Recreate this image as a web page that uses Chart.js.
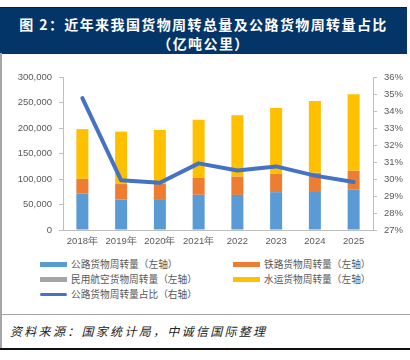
<!DOCTYPE html>
<html><head><meta charset="utf-8">
<script src="https://cdn.jsdelivr.net/npm/chart.js@4/dist/chart.umd.min.js"></script>
<style>
html,body{margin:0;padding:0;background:#fff;}
body{width:410px;height:360px;position:relative;overflow:hidden;font-family:"Noto Sans CJK SC","Noto Sans",sans-serif;}
#banner{position:absolute;left:0;top:7px;width:407px;height:46px;background:#033568;border-top:1px solid #1b1b1b;color:#fff;text-align:center;font-weight:bold;font-size:14px;letter-spacing:1.4px;}
#banner .l1{position:absolute;left:0;width:100%;top:7px;line-height:18px;}
#banner .l2{position:absolute;left:0;width:100%;top:26px;line-height:18px;}
#lborder{position:absolute;left:0;top:53px;width:2px;height:296px;background:#a6a6a6;}
#hline{position:absolute;left:0;top:314px;width:410px;height:1px;background:#a6a6a6;}
#bline{position:absolute;left:0;top:348px;width:410px;height:2px;background:#111;}
#foot{position:absolute;left:10px;top:322px;font-size:12px;font-style:italic;color:#222;letter-spacing:2.3px;line-height:18px;}
#wrap{position:absolute;left:0;top:55px;width:410px;height:195px;}
.lg{position:absolute;height:14px;font-size:9.7px;color:#595959;line-height:14px;white-space:nowrap;}
.lg .sw{position:absolute;left:0;top:5px;width:27px;height:5px;}
.lg .ln{position:absolute;left:0;top:6px;width:27px;height:3px;border-radius:2px;}
.lg span.t{position:absolute;left:31px;top:0;}
</style></head>
<body>
<div id="banner"><div class="l1">图 2：近年来我国货物周转总量及公路货物周转量占比</div><div class="l2">（亿吨公里）</div></div>
<div id="lborder"></div>
<div id="wrap"><canvas id="c"></canvas></div>
<div id="legend"></div>
<div id="hline"></div>
<div id="foot">资料来源：国家统计局，中诚信国际整理</div>
<div id="bline"></div>
<script>
const categories = ['2018年','2019年','2020年','2021年','2022','2023','2024','2025'];
const road  = [71200, 59600, 60500, 69000, 68800, 74200, 76300, 79600];
const rail  = [28800, 30500, 30300, 33400, 35700, 36200, 35500, 36100];
const air   = [262, 263, 240, 278, 254, 283, 330, 360];
const water = [97500, 102600, 105200, 113600, 120300, 128700, 141000, 150300];
const roadShare = [34.76, 29.92, 29.78, 30.92, 30.50, 30.74, 30.20, 29.82];
const leftTicks = {min:0, max:300000, step:50000};
const rightTicks = {min:27, max:36, step:1};

const names = ['公路货物周转量（左轴）','铁路货物周转量（左轴）','民用航空货物周转量（左轴）','水运货物周转量（左轴）','公路货物周转量占比（右轴）'];
const colors = ['#5B9BD5','#ED7D31','#A5A5A5','#FFC000','#4472C4'];

const barCommon = {type:'bar', yAxisID:'y', stack:'s', order:1, barPercentage:0.62, categoryPercentage:0.5, borderWidth:0};
const tickFont = {family:'"Liberation Sans","DejaVu Sans",sans-serif', size:9.5};

new Chart(document.getElementById('c'), {
  data:{
    labels:categories,
    datasets:[
      Object.assign({label:names[0], data:road, backgroundColor:colors[0]}, barCommon),
      Object.assign({label:names[1], data:rail, backgroundColor:colors[1]}, barCommon),
      Object.assign({label:names[2], data:air, backgroundColor:colors[2]}, barCommon),
      Object.assign({label:names[3], data:water, backgroundColor:colors[3]}, barCommon),
      {type:'line', label:names[4], data:roadShare, yAxisID:'y1', order:0, borderColor:colors[4], borderWidth:4, pointRadius:0, tension:0, fill:false, borderCapStyle:'round', borderJoinStyle:'round'}
    ]
  },
  options:{
    responsive:true, maintainAspectRatio:false, animation:false,
    layout:{padding:{left:0,right:0,top:22,bottom:0}},
    plugins:{legend:{display:false}, tooltip:{enabled:false}},
    scales:{
      x:{stacked:true,
        grid:{display:true, drawOnChartArea:false, drawTicks:false},
        border:{display:true, color:'#bfbfbf'},
        ticks:{color:'#595959', font:tickFont, padding:6, maxRotation:0, autoSkip:false},
        afterFit:s=>{s.height=20;}
      },
      y:{stacked:true, position:'left', min:leftTicks.min, max:leftTicks.max,
        grid:{display:true, drawOnChartArea:false, tickLength:4, color:'#bfbfbf'},
        border:{display:true, color:'#bfbfbf'},
        ticks:{stepSize:leftTicks.step, color:'#595959', font:tickFont, padding:7,
          callback:v=>v.toLocaleString('en-US')},
        afterFit:s=>{s.width=63;}
      },
      y1:{position:'right', min:rightTicks.min, max:rightTicks.max,
        grid:{display:true, drawOnChartArea:false, tickLength:4, color:'#bfbfbf'},
        border:{display:true, color:'#bfbfbf'},
        ticks:{stepSize:rightTicks.step, color:'#595959', font:tickFont, padding:7,
          callback:v=>v+'%'},
        afterFit:s=>{s.width=37;}
      }
    }
  }
});

// legend (HTML), built from the dataset names/colours
const pos = [[40,257],[233,257],[40,272],[233,272],[40,287]];
const lg = document.getElementById('legend');
names.forEach((n,i)=>{
  const d=document.createElement('div'); d.className='lg';
  d.style.left=pos[i][0]+'px'; d.style.top=pos[i][1]+'px';
  const sw=document.createElement('div'); sw.className = i===4?'ln':'sw'; sw.style.background=colors[i];
  const t=document.createElement('span'); t.className='t'; t.textContent=n;
  d.appendChild(sw); d.appendChild(t); lg.appendChild(d);
});
</script>
</body></html>
